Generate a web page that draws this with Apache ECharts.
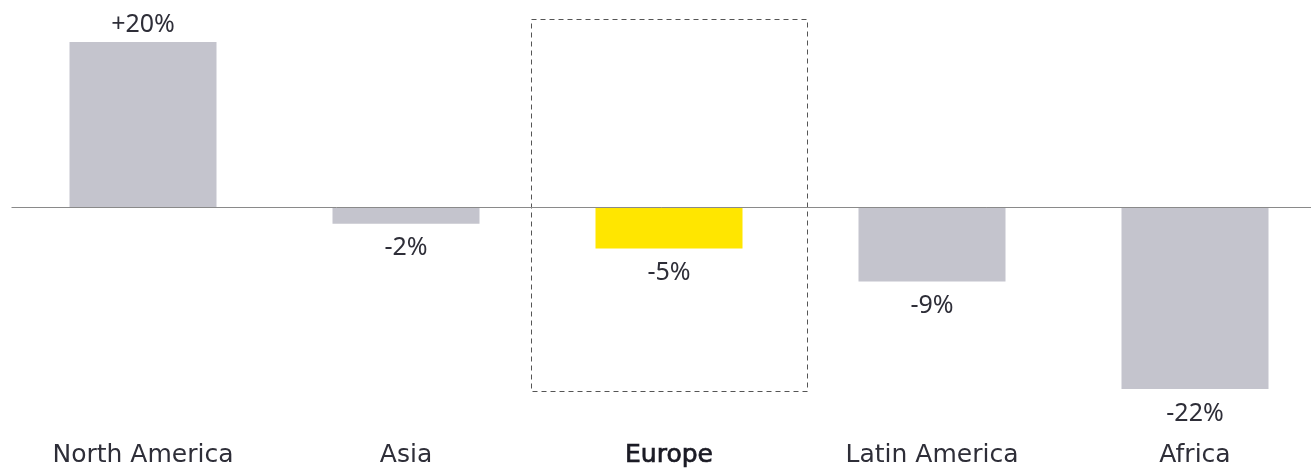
<!DOCTYPE html>
<html>
<head>
<meta charset="utf-8">
<script src="https://cdn.jsdelivr.net/npm/echarts@6/dist/echarts.min.js"></script>
<style>html,body{margin:0;padding:0;background:#fff}#c{width:1311px;height:470px}</style>
</head>
<body>
<div id="c"></div>
<script>
const categories = ['North America', 'Asia', 'Europe', 'Latin America', 'Africa'];
const values = [20, -2, -5, -9, -22];
const valueLabels = ['+20%', '-2%', '-5%', '-9%', '-22%'];
const highlight = 'Europe';

const GREY = '#c4c4cd', YELLOW = '#ffe600', TEXT = '#2e2e38';
const VFONT = '"Noto Sans", sans-serif';
const CFONT = '"DejaVu Sans", sans-serif';

const chart = echarts.init(document.getElementById('c'), null, {renderer: 'canvas'});
const data = values.map((v, i) => ({
  value: v,
  itemStyle: {color: categories[i] === highlight ? YELLOW : GREY},
  label: {position: v >= 0 ? 'top' : 'bottom', distance: v >= 0 ? 5 : 12}
}));
chart.setOption({
  animation: false,
  grid: {left: 11.5, width: 1315, top: 42, bottom: 81, outerBoundsMode: 'none', containLabel: false},
  xAxis: {
    type: 'category', data: categories, position: 'bottom',
    axisLine: {show: false}, axisTick: {show: false},
    axisLabel: {
      margin: 54, fontSize: 25, color: TEXT, fontFamily: CFONT,
      formatter: v => v === highlight ? '{b|' + v + '}' : v,
      rich: {b: {fontSize: 25, color: '#1a1a24', fontFamily: CFONT, textBorderColor: '#1a1a24', textBorderWidth: 0.7}}
    }
  },
  yAxis: {type: 'value', min: -22, max: 20, show: false, splitLine: {show: false}},
  series: [{
    type: 'bar', data: data, barWidth: 147,
    label: {
      show: true, fontSize: 25, color: TEXT, fontFamily: VFONT,
      formatter: p => valueLabels[p.dataIndex]
    },
    markLine: {
      silent: true, symbol: 'none', animation: false,
      label: {show: false},
      lineStyle: {color: '#8a8a8a', width: 1, type: 'solid'},
      data: [{yAxis: 0}]
    }
  }]
});

// dashed highlight box around Europe
const idx = categories.indexOf(highlight);
const c = chart.convertToPixel({xAxisIndex: 0, yAxisIndex: 0}, [idx, 0]);
const halfW = 138;
chart.setOption({
  graphic: [{
    type: 'rect', silent: true,
    shape: {x: Math.round(c[0] - halfW) + 0.5, y: 19.5, width: halfW * 2, height: 372},
    style: {fill: 'none', stroke: '#555', lineWidth: 1, lineDash: [5, 4]}
  }]
});
</script>
</body>
</html>
